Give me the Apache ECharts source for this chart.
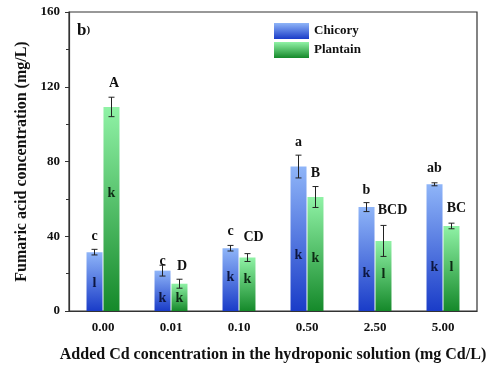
<!DOCTYPE html>
<html>
<head>
<meta charset="utf-8">
<script src="https://cdn.jsdelivr.net/npm/echarts@6/dist/echarts.min.js"></script>
<style>html,body{margin:0;padding:0;background:#fff}#c{width:490px;height:369px}</style>
</head>
<body>
<div id="c"></div>
<script>
var categories = ['0.00', '0.01', '0.10', '0.50', '2.50', '5.00'];
var chicory = [31.5, 21.6, 33.6, 77.3, 55.6, 67.8];
var chicoryErr = [1.5, 2.9, 1.5, 6.1, 2.4, 0.8];
var plantain = [109.2, 14.6, 28.6, 61.0, 37.5, 45.5];
var plantainErr = [5.2, 2.4, 2.1, 5.6, 8.3, 1.5];
var chicoryTop = ['c', 'c', 'c', 'a', 'b', 'ab'];
var chicoryTopY = [39.8, 26.4, 42.5, 90.1, 64.8, 76.4];
var plantainTop = ['A', 'D', 'CD', 'B', 'BCD', 'BC'];
var plantainTopY = [122, 23.7, 39.5, 73.8, 54.1, 55];
var chicoryIn = ['l', 'k', 'k', 'k', 'k', 'k'];
var chicoryInY = [15, 7, 18.2, 30, 20.3, 23.6];
var plantainIn = ['k', 'k', 'k', 'k', 'l', 'l'];
var plantainInY = [63.2, 7, 17.1, 28.4, 19.8, 23.6];
var yTicks = [0, 40, 80, 120, 160];

var chart = echarts.init(document.getElementById('c'));
var FONT = '"Liberation Serif", "Times New Roman", serif';
var HALF = 8.5;
var plantainShift = [2.5, 2.5, 6, 0, 9, 5];
var zeros = [0, 0, 0, 0, 0, 0];

function grad(a, b) {
  return new echarts.graphic.LinearGradient(0, 0, 0, 1, [{offset: 0, color: a}, {offset: 1, color: b}]);
}
function errSeries(vals, errs, side) {
  return {
    type: 'custom', silent: true, z: 5,
    data: categories.map(function (c, i) { return [i, vals[i] - errs[i], vals[i] + errs[i]]; }),
    renderItem: function (params, api) {
      var lo = api.coord([api.value(0), api.value(1)]);
      var hi = api.coord([api.value(0), api.value(2)]);
      var x = lo[0] + side * HALF;
      var st = {stroke: '#222', lineWidth: 1};
      return {type: 'group', children: [
        {type: 'line', shape: {x1: x, y1: lo[1], x2: x, y2: hi[1]}, style: st},
        {type: 'line', shape: {x1: x - 3, y1: lo[1], x2: x + 3, y2: lo[1]}, style: st},
        {type: 'line', shape: {x1: x - 3, y1: hi[1], x2: x + 3, y2: hi[1]}, style: st}
      ]};
    }
  };
}
function textSeries(labels, ys, side, shifts, color) {
  return {
    type: 'custom', silent: true, z: 10,
    data: categories.map(function (c, i) { return [i, ys[i]]; }),
    renderItem: function (params, api) {
      var i = params.dataIndex;
      var p = api.coord([api.value(0), api.value(1)]);
      return {type: 'text', x: p[0] + side * HALF + shifts[i], y: p[1],
        style: {text: labels[i], align: 'center', verticalAlign: 'middle',
          font: 'bold 14px ' + FONT, fill: color}};
    }
  };
}

var option = {
  animation: false,
  grid: {left: 69, right: 13, top: 12, bottom: 58, show: true, borderColor: '#333', borderWidth: 1.2},
  legend: {
    orient: 'vertical', left: 269, top: 18, itemWidth: 35, itemHeight: 16, itemGap: 3,
    icon: 'rect', data: ['Chicory', 'Plantain'],
    textStyle: {fontFamily: FONT, fontWeight: 'bold', fontSize: 13, color: '#111'}
  },
  graphic: [{type: 'text', left: 77, top: 22,
    style: {text: '{a|b}{b|)}', rich: {a: {font: 'bold 17px ' + FONT, fill: '#111'}, b: {font: 'bold 11px ' + FONT, fill: '#111'}}}}],
  xAxis: [{
    type: 'category', data: categories,
    name: 'Added Cd concentration in the hydroponic solution (mg Cd/L)',
    nameLocation: 'middle', nameGap: 36,
    nameTextStyle: {fontFamily: FONT, fontWeight: 'bold', fontSize: 16, color: '#111'},
    axisLine: {lineStyle: {color: '#333', width: 1.2}},
    axisTick: {length: 4, lineStyle: {color: '#333'}},
    axisLabel: {margin: 10, fontFamily: FONT, fontWeight: 'bold', fontSize: 13, color: '#111'}
  }, {
    type: 'category', data: categories, position: 'bottom', offset: 0,
    axisLine: {show: false},
    axisTick: {alignWithLabel: true, length: 5, lineStyle: {color: '#333'}},
    axisLabel: {show: false}
  }],
  yAxis: {
    type: 'value', min: yTicks[0], max: yTicks[yTicks.length - 1], interval: 40,
    name: 'Fumaric acid concentration (mg/L)', nameLocation: 'middle', nameGap: 39,
    nameTextStyle: {fontFamily: FONT, fontWeight: 'bold', fontSize: 16, color: '#111'},
    axisLine: {show: true, lineStyle: {color: '#333', width: 1.2}},
    axisTick: {show: true, length: 4, lineStyle: {color: '#333'}},
    minorTick: {show: true, splitNumber: 2, length: 3, lineStyle: {color: '#333'}},
    splitLine: {show: false},
    axisLabel: {margin: 9, fontFamily: FONT, fontWeight: 'bold', fontSize: 13, color: '#111'}
  },
  series: [
    {name: 'Chicory', type: 'bar', data: chicory, barWidth: 16, barGap: '6%',
      itemStyle: {color: grad('#8fb5f8', '#1a3cc8')}},
    {name: 'Plantain', type: 'bar', data: plantain, barWidth: 16, barGap: '6%',
      itemStyle: {color: grad('#90f2a6', '#15892a')}},
    errSeries(chicory, chicoryErr, -1),
    errSeries(plantain, plantainErr, 1),
    textSeries(chicoryTop, chicoryTopY, -1, zeros, '#111'),
    textSeries(plantainTop, plantainTopY, 1, plantainShift, '#111'),
    textSeries(chicoryIn, chicoryInY, -1, zeros, '#0d1640'),
    textSeries(plantainIn, plantainInY, 1, zeros, '#0d2a14')
  ]
};
chart.setOption(option);
</script>
</body>
</html>
